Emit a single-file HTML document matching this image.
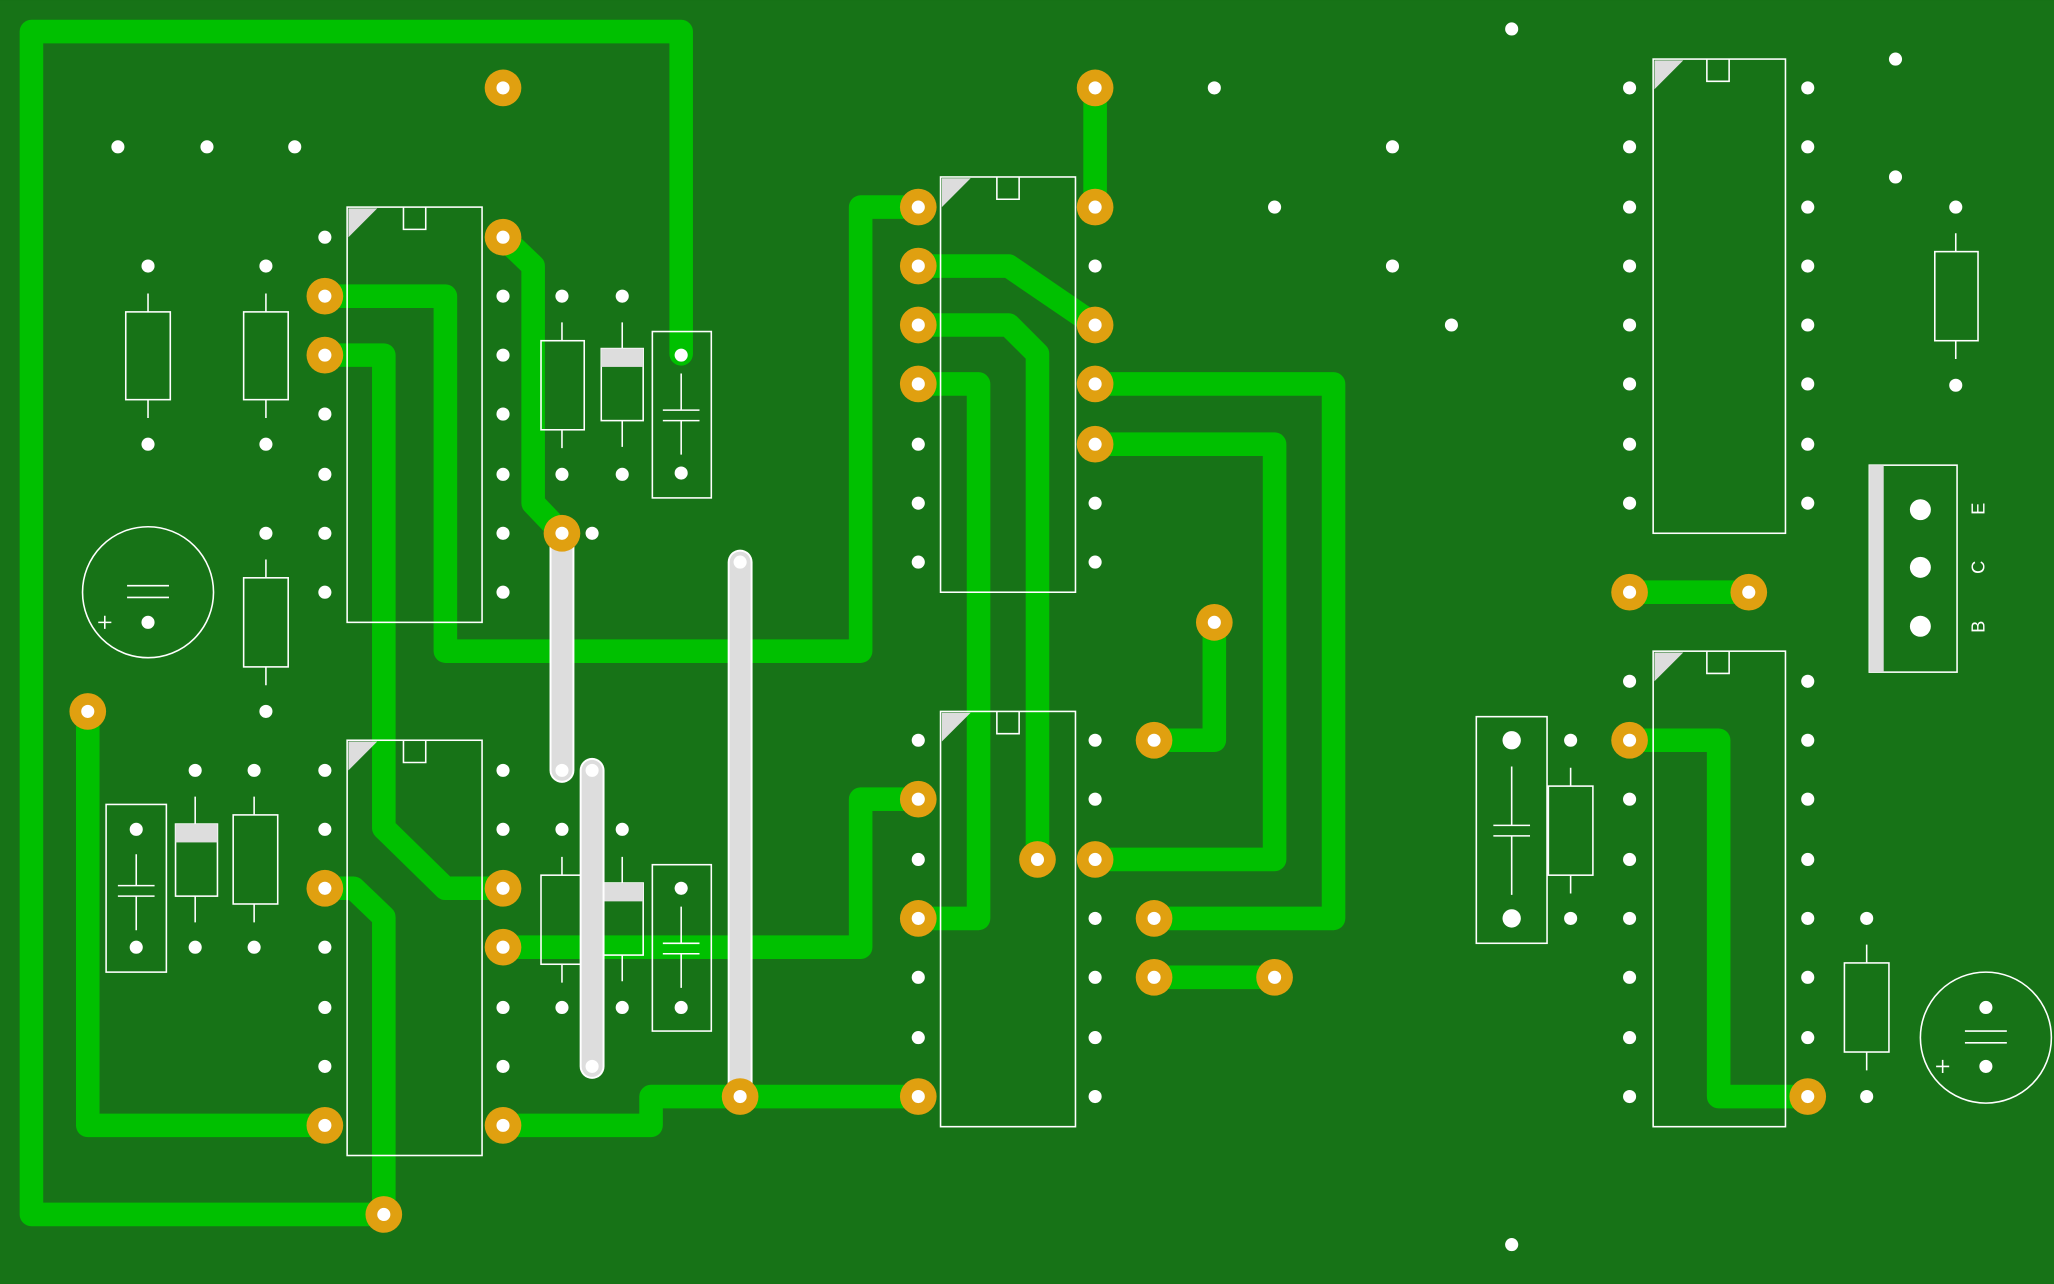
<!DOCTYPE html>
<html><head><meta charset="utf-8"><style>html,body{margin:0;padding:0;background:#177317;}svg{display:block}</style></head>
<body>
<svg width="2054" height="1284" viewBox="0 0 1568 980" xmlns="http://www.w3.org/2000/svg">
<rect width="1568" height="980" fill="#177317"/>
<g fill="none" stroke="#00c000" stroke-width="18" stroke-linejoin="round" stroke-linecap="round">
<polyline points="293,927 24,927 24,24 520,24 520,270"/>
<polyline points="248,226 340,226 340,497 657,497 657,158 701,158"/>
<polyline points="248,271 293,271 293,632 340,678 384,678"/>
<polyline points="248,678 270,678 293,700 293,927"/>
<polyline points="67,543 67,859 248,859"/>
<polyline points="384,181 407,203 407,384 429,407"/>
<polyline points="384,723 657,723 657,610 701,610"/>
<polyline points="384,859 497,859 497,837 701,837"/>
<polyline points="701,203 770,203 836,248"/>
<polyline points="701,248 770,248 792,270 792,656"/>
<polyline points="701,293 747,293 747,701 701,701"/>
<polyline points="836,67 836,158"/>
<polyline points="836,293 1018,293 1018,701 881,701"/>
<polyline points="836,339 973,339 973,656 836,656"/>
<polyline points="927,475 927,565 881,565"/>
<polyline points="881,746 973,746"/>
<polyline points="1244,452 1335,452"/>
<polyline points="1244,565 1312,565 1312,837 1380,837"/>
</g>
<g stroke="#fff" stroke-width="1.2" fill="none">
<rect x="265" y="158" width="103" height="317"/>
<rect x="265" y="565" width="103" height="317"/>
<rect x="718" y="135" width="103" height="317"/>
<rect x="718" y="543" width="103" height="317"/>
<rect x="1262" y="45" width="101" height="362"/>
<rect x="1262" y="497" width="101" height="363"/>
<path d="M308,158v17h17v-17M761,135v17h17v-17M308,565v17h17v-17M761,543v17h17v-17M1303,45v17h17v-17M1303,497v17h17v-17" stroke="#fff"/>
<!-- resistors -->
<rect x="96" y="238" width="34" height="67"/><path d="M113,224v14M113,305v14"/>
<rect x="186" y="238" width="34" height="67"/><path d="M203,224v14M203,305v14"/>
<rect x="186" y="441" width="34" height="68"/><path d="M203,427v14M203,509v14"/>
<rect x="413" y="260" width="33" height="68"/><path d="M429,246v14M429,328v14"/>
<rect x="459" y="266" width="32" height="55"/><path d="M475,246v20M475,321v20"/>
<rect x="178" y="622" width="34" height="68"/><path d="M194,608v14M194,690v14"/>
<rect x="134" y="629" width="32" height="55"/><path d="M149,608v21M149,684v20"/>
<rect x="413" y="668" width="33" height="68"/><path d="M429,654v14M429,736v14"/>
<rect x="459" y="674" width="32" height="55"/><path d="M475,654v20M475,729v20"/>
<rect x="1182" y="600" width="34" height="68"/><path d="M1199,586v14M1199,668v14"/>
<rect x="1477" y="192" width="33" height="68"/><path d="M1493,178v14M1493,260v14"/>
<rect x="1408" y="735" width="34" height="68"/><path d="M1425,721v14M1425,803v14"/>
<!-- caps -->
<rect x="498" y="253" width="45" height="127"/><path d="M520,285v28M506,313h28M506,321h28M520,321v26"/>
<rect x="81" y="614" width="46" height="128"/><path d="M104,652v24M90,676h28M90,684h28M104,684v26"/>
<rect x="498" y="660" width="45" height="127"/><path d="M520,692v28M506,720h28M506,728h28M520,728v26"/>
<rect x="1127" y="547" width="54" height="173"/><path d="M1154,585v45M1140,630h28M1140,638h28M1154,638v45"/>
<circle cx="113" cy="452" r="50"/><path d="M97,447h32M97,456h32M75,475h10M80,470v10"/>
<circle cx="1516" cy="792" r="50"/><path d="M1500,787h32M1500,796h32M1478,814h10M1483,809v10"/>
<rect x="1427" y="355" width="67" height="158"/>
</g>
<g fill="#ddd">
<rect x="459" y="266" width="32" height="14"/><rect x="134" y="629" width="32" height="14"/><rect x="459" y="674" width="32" height="14"/>
<rect x="1427" y="355" width="11" height="158"/>
<path d="M266,159h22l-22,22zM719,136h22l-22,22zM266,566h22l-22,22zM719,544h22l-22,22zM1263,46h22l-22,22zM1263,498h22l-22,22z"/>
</g>
<g font-family="Liberation Sans, sans-serif" font-size="14" fill="#fff">
<text transform="translate(1515,483) rotate(-90)">B</text>
<text transform="translate(1515,438) rotate(-90)">C</text>
<text transform="translate(1515,393) rotate(-90)">E</text>
</g>
<!-- jumpers -->
<g stroke-linecap="round">
<g stroke="#fff" stroke-width="19"><path d="M429,407V588M452,588V814M565,429V837"/></g>
<g stroke="#ddd" stroke-width="16"><path d="M429,407V588M452,588V814M565,429V837"/></g>
</g>
<g fill="#e0a010" id="pads">
<circle cx="384" cy="67" r="14"/><circle cx="384" cy="181" r="14"/><circle cx="248" cy="226" r="14"/><circle cx="248" cy="271" r="14"/><circle cx="429" cy="407" r="14"/><circle cx="67" cy="543" r="14"/><circle cx="248" cy="678" r="14"/><circle cx="248" cy="859" r="14"/><circle cx="384" cy="678" r="14"/><circle cx="384" cy="723" r="14"/><circle cx="384" cy="859" r="14"/><circle cx="293" cy="927" r="14"/><circle cx="565" cy="837" r="14"/><circle cx="701" cy="158" r="14"/><circle cx="701" cy="203" r="14"/><circle cx="701" cy="248" r="14"/><circle cx="701" cy="293" r="14"/><circle cx="836" cy="67" r="14"/><circle cx="836" cy="158" r="14"/><circle cx="836" cy="248" r="14"/><circle cx="836" cy="293" r="14"/><circle cx="836" cy="339" r="14"/><circle cx="701" cy="610" r="14"/><circle cx="701" cy="701" r="14"/><circle cx="701" cy="837" r="14"/><circle cx="792" cy="656" r="14"/><circle cx="836" cy="656" r="14"/><circle cx="927" cy="475" r="14"/><circle cx="881" cy="565" r="14"/><circle cx="881" cy="701" r="14"/><circle cx="881" cy="746" r="14"/><circle cx="973" cy="746" r="14"/><circle cx="1244" cy="452" r="14"/><circle cx="1335" cy="452" r="14"/><circle cx="1244" cy="565" r="14"/><circle cx="1380" cy="837" r="14"/>
</g>
<g fill="#fff">
<!-- holes on orange pads -->
<circle cx="384" cy="67" r="5"/><circle cx="384" cy="181" r="5"/><circle cx="248" cy="226" r="5"/><circle cx="248" cy="271" r="5"/><circle cx="429" cy="407" r="5"/><circle cx="67" cy="543" r="5"/><circle cx="248" cy="678" r="5"/><circle cx="248" cy="859" r="5"/><circle cx="384" cy="678" r="5"/><circle cx="384" cy="723" r="5"/><circle cx="384" cy="859" r="5"/><circle cx="293" cy="927" r="5"/><circle cx="565" cy="837" r="5"/><circle cx="701" cy="158" r="5"/><circle cx="701" cy="203" r="5"/><circle cx="701" cy="248" r="5"/><circle cx="701" cy="293" r="5"/><circle cx="836" cy="67" r="5"/><circle cx="836" cy="158" r="5"/><circle cx="836" cy="248" r="5"/><circle cx="836" cy="293" r="5"/><circle cx="836" cy="339" r="5"/><circle cx="701" cy="610" r="5"/><circle cx="701" cy="701" r="5"/><circle cx="701" cy="837" r="5"/><circle cx="792" cy="656" r="5"/><circle cx="836" cy="656" r="5"/><circle cx="927" cy="475" r="5"/><circle cx="881" cy="565" r="5"/><circle cx="881" cy="701" r="5"/><circle cx="881" cy="746" r="5"/><circle cx="973" cy="746" r="5"/><circle cx="1244" cy="452" r="5"/><circle cx="1335" cy="452" r="5"/><circle cx="1244" cy="565" r="5"/><circle cx="1380" cy="837" r="5"/>
<circle cx="429" cy="588" r="5"/><circle cx="452" cy="588" r="5"/><circle cx="452" cy="814" r="5"/><circle cx="565" cy="429" r="5"/>
<!-- IC pins plain -->
<circle cx="248" cy="181" r="5"/><circle cx="248" cy="316" r="5"/><circle cx="248" cy="362" r="5"/><circle cx="248" cy="407" r="5"/><circle cx="248" cy="452" r="5"/>
<circle cx="384" cy="226" r="5"/><circle cx="384" cy="271" r="5"/><circle cx="384" cy="316" r="5"/><circle cx="384" cy="362" r="5"/><circle cx="384" cy="407" r="5"/><circle cx="384" cy="452" r="5"/>
<circle cx="248" cy="588" r="5"/><circle cx="248" cy="633" r="5"/><circle cx="248" cy="723" r="5"/><circle cx="248" cy="769" r="5"/><circle cx="248" cy="814" r="5"/>
<circle cx="384" cy="588" r="5"/><circle cx="384" cy="633" r="5"/><circle cx="384" cy="769" r="5"/><circle cx="384" cy="814" r="5"/>
<circle cx="701" cy="339" r="5"/><circle cx="701" cy="384" r="5"/><circle cx="701" cy="429" r="5"/>
<circle cx="836" cy="203" r="5"/><circle cx="836" cy="384" r="5"/><circle cx="836" cy="429" r="5"/>
<circle cx="701" cy="565" r="5"/><circle cx="701" cy="656" r="5"/><circle cx="701" cy="746" r="5"/><circle cx="701" cy="792" r="5"/>
<circle cx="836" cy="565" r="5"/><circle cx="836" cy="610" r="5"/><circle cx="836" cy="701" r="5"/><circle cx="836" cy="746" r="5"/><circle cx="836" cy="792" r="5"/><circle cx="836" cy="837" r="5"/>
<circle cx="1244" cy="67" r="5"/><circle cx="1244" cy="112" r="5"/><circle cx="1244" cy="158" r="5"/><circle cx="1244" cy="203" r="5"/><circle cx="1244" cy="248" r="5"/><circle cx="1244" cy="293" r="5"/><circle cx="1244" cy="339" r="5"/><circle cx="1244" cy="384" r="5"/>
<circle cx="1380" cy="67" r="5"/><circle cx="1380" cy="112" r="5"/><circle cx="1380" cy="158" r="5"/><circle cx="1380" cy="203" r="5"/><circle cx="1380" cy="248" r="5"/><circle cx="1380" cy="293" r="5"/><circle cx="1380" cy="339" r="5"/><circle cx="1380" cy="384" r="5"/>
<circle cx="1244" cy="520" r="5"/><circle cx="1244" cy="610" r="5"/><circle cx="1244" cy="656" r="5"/><circle cx="1244" cy="701" r="5"/><circle cx="1244" cy="746" r="5"/><circle cx="1244" cy="792" r="5"/><circle cx="1244" cy="837" r="5"/>
<circle cx="1380" cy="520" r="5"/><circle cx="1380" cy="565" r="5"/><circle cx="1380" cy="610" r="5"/><circle cx="1380" cy="656" r="5"/><circle cx="1380" cy="701" r="5"/><circle cx="1380" cy="746" r="5"/><circle cx="1380" cy="792" r="5"/>
<!-- misc -->
<circle cx="90" cy="112" r="5"/><circle cx="158" cy="112" r="5"/><circle cx="225" cy="112" r="5"/><circle cx="113" cy="203" r="5"/><circle cx="203" cy="203" r="5"/><circle cx="113" cy="339" r="5"/><circle cx="203" cy="339" r="5"/><circle cx="203" cy="407" r="5"/><circle cx="203" cy="543" r="5"/><circle cx="113" cy="475" r="5"/>
<circle cx="429" cy="226" r="5"/><circle cx="475" cy="226" r="5"/><circle cx="429" cy="362" r="5"/><circle cx="475" cy="362" r="5"/><circle cx="452" cy="407" r="5"/><circle cx="520" cy="271" r="5"/><circle cx="520" cy="361" r="5"/>
<circle cx="149" cy="588" r="5"/><circle cx="194" cy="588" r="5"/><circle cx="104" cy="633" r="5"/><circle cx="104" cy="723" r="5"/><circle cx="149" cy="723" r="5"/><circle cx="194" cy="723" r="5"/>
<circle cx="429" cy="633" r="5"/><circle cx="475" cy="633" r="5"/><circle cx="429" cy="769" r="5"/><circle cx="475" cy="769" r="5"/><circle cx="520" cy="678" r="5"/><circle cx="520" cy="769" r="5"/>
<circle cx="927" cy="67" r="5"/><circle cx="973" cy="158" r="5"/><circle cx="1063" cy="112" r="5"/><circle cx="1063" cy="203" r="5"/><circle cx="1108" cy="248" r="5"/><circle cx="1154" cy="22" r="5"/><circle cx="1447" cy="45" r="5"/><circle cx="1447" cy="135" r="5"/><circle cx="1493" cy="158" r="5"/><circle cx="1493" cy="294" r="5"/>
<circle cx="1199" cy="565" r="5"/><circle cx="1199" cy="701" r="5"/><circle cx="1154" cy="565" r="7"/><circle cx="1154" cy="701" r="7"/><circle cx="1425" cy="701" r="5"/><circle cx="1425" cy="837" r="5"/><circle cx="1154" cy="950" r="5"/><circle cx="1516" cy="769" r="5"/><circle cx="1516" cy="814" r="5"/>
<circle cx="1466" cy="389" r="8"/><circle cx="1466" cy="433" r="8"/><circle cx="1466" cy="478" r="8"/>
</g>
</svg>
</body></html>
